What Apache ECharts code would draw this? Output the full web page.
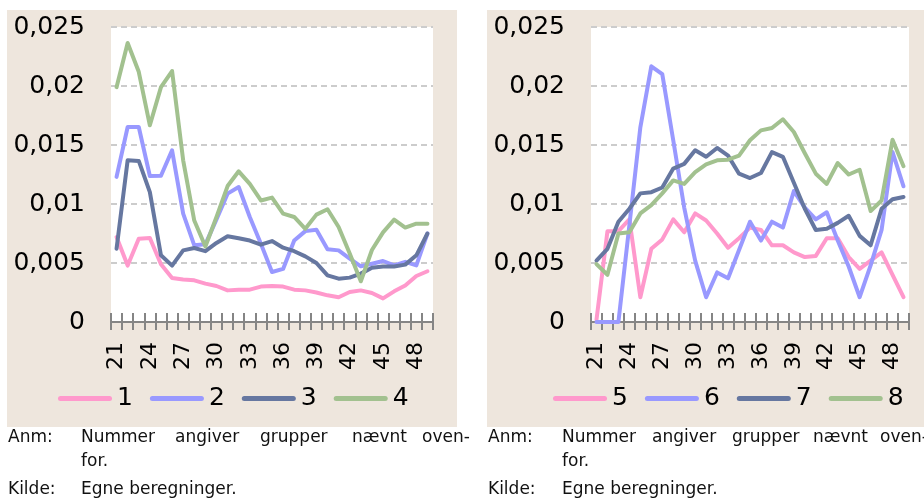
<!DOCTYPE html>
<html><head><meta charset="utf-8">
<script src="https://cdn.jsdelivr.net/npm/echarts@6/dist/echarts.min.js"></script>
<style>html,body{margin:0;padding:0;background:#fff}#c{width:924px;height:501px}</style>
</head><body><div id="c"></div>
<script>
// ---- data ----
const categories = ['21','22','23','24','25','26','27','28','29','30','31','32','33','34','35','36','37','38','39','40','41','42','43','44','45','46','47','48','49'];
const yTickLabels = ['0','0,005','0,01','0,015','0,02','0,025'];
const namesLeft = ['1','2','3','4'];
const namesRight = ['5','6','7','8'];
const s1 = [0.0072,0.00478,0.00706,0.00712,0.0049,0.00373,0.0036,0.00353,0.00325,0.00305,0.00268,0.00274,0.00274,0.003,0.00305,0.003,0.00274,0.00268,0.0025,0.00226,0.0021,0.00254,0.00268,0.00246,0.002,0.0026,0.0031,0.0039,0.0043];
const s2 = [0.0123,0.01653,0.01653,0.01237,0.0124,0.01455,0.00918,0.0065,0.00658,0.0087,0.01088,0.01144,0.0089,0.00664,0.00424,0.0045,0.0069,0.0077,0.00782,0.00616,0.00607,0.00537,0.00472,0.00494,0.00517,0.0048,0.0051,0.0048,0.0075];
const s3 = [0.0062,0.0137,0.01365,0.011,0.00565,0.00478,0.00607,0.00627,0.006,0.0067,0.00726,0.0071,0.0069,0.00655,0.00686,0.0063,0.006,0.00556,0.005,0.00395,0.00367,0.00376,0.0041,0.0046,0.0047,0.0047,0.00486,0.00565,0.0075];
const s4 = [0.0199,0.02365,0.0212,0.01667,0.0199,0.02127,0.0137,0.0086,0.0064,0.0089,0.01152,0.01277,0.0117,0.0103,0.01054,0.00918,0.0089,0.0079,0.0091,0.00955,0.00805,0.0058,0.00345,0.0061,0.0076,0.00867,0.008,0.00833,0.00833];
const s5 = [0.0002,0.0077,0.0077,0.0087,0.0021,0.0062,0.007,0.0087,0.0076,0.0092,0.0086,0.0075,0.0063,0.0071,0.008,0.0078,0.0065,0.0065,0.0059,0.0055,0.0056,0.0071,0.0071,0.0055,0.0045,0.0052,0.0059,0.004,0.0021];
const s6 = [0,0,0,0.0082,0.0165,0.02167,0.021,0.0154,0.0097,0.0052,0.0021,0.0042,0.0037,0.0061,0.0085,0.0069,0.0085,0.008,0.0111,0.0097,0.0087,0.0093,0.0069,0.0047,0.0021,0.0048,0.0078,0.0144,0.0115];
const s7 = [0.0052,0.0062,0.0085,0.0096,0.0109,0.011,0.0114,0.013,0.0134,0.01455,0.014,0.01475,0.0141,0.01257,0.0122,0.01263,0.0144,0.014,0.0118,0.0096,0.0078,0.0079,0.0084,0.009,0.0073,0.0065,0.0096,0.0104,0.0106];
const s8 = [0.0049,0.004,0.0075,0.0076,0.0092,0.0099,0.0109,0.012,0.0117,0.0127,0.01336,0.0137,0.01376,0.0141,0.0154,0.01624,0.01644,0.01718,0.0161,0.0143,0.01257,0.0117,0.01347,0.0125,0.0129,0.0094,0.0103,0.01545,0.0132];

// ---- style ----
const colors = ['#FF99CC','#9999FF','#6677A0','#A2C18F'];
const beige = '#EEE6DD';
const FONT = 'DejaVu Sans';
const capsule = 'path://M2.5,0 H51.5 A2.5,2.5 0 0 1 51.5,5 H2.5 A2.5,2.5 0 0 1 2.5,0 Z';

const chart = echarts.init(document.getElementById('c'), null, {renderer:'canvas'});

function xAxes(gi){
  return [{
    type:'category', gridIndex:gi, data:categories, boundaryGap:true, position:'bottom',
    axisLine:{show:true, lineStyle:{color:'#858585', width:2}},
    axisTick:{show:true, interval:0, length:8, inside:false, lineStyle:{color:'#858585', width:2}},
    axisLabel:{interval:2, rotate:90, margin:20, color:'#000', fontSize:22, fontFamily:FONT},
    splitLine:{show:false}
  },{
    type:'category', gridIndex:gi, data:categories, boundaryGap:true, position:'bottom',
    axisLine:{show:false},
    axisTick:{show:true, interval:0, length:9, inside:true, lineStyle:{color:'#858585', width:2}},
    axisLabel:{show:false}, splitLine:{show:false}
  }];
}
function yAxis(gi){
  return {
    type:'value', gridIndex:gi, min:0, max:0.025, interval:0.005,
    axisLine:{show:false}, axisTick:{show:false},
    axisLabel:{margin:26, color:'#000', fontSize:25, fontFamily:FONT,
      formatter:v=>yTickLabels[Math.round(v/0.005)]},
    splitLine:{show:true, lineStyle:{color:'#CCCCCC', width:2, type:[6,4]}}
  };
}
function mkSeries(names, datas, gi){
  return names.map((n,k)=>({
    name:n, type:'line', xAxisIndex:gi*2, yAxisIndex:gi, data:datas[k],
    symbol:'none', smooth:false, color:colors[k],
    lineStyle:{width:4, color:colors[k], cap:'round', join:'round'}
  }));
}
function legend(names, left){
  return {data:names, left:left, top:386, padding:0, orient:'horizontal', icon:capsule,
    itemWidth:54, itemHeight:5, itemGap:17,
    textStyle:{fontSize:25, color:'#000', fontFamily:FONT}};
}
function t(x,y,s){
  return {type:'text', x:x, y:y, z:10, style:{text:s, fill:'#111', font:'17px "DejaVu Sans"', textVerticalAlign:'middle', textAlign:'left'}};
}

const graphics = [
  {type:'rect', shape:{x:7,y:10,width:450,height:417}, style:{fill:beige}, z:-10, silent:true},
  {type:'rect', shape:{x:487,y:10,width:437,height:417}, style:{fill:beige}, z:-10, silent:true},
  t(8,438,'Anm:'), t(81,438,'Nummer'), t(175,438,'angiver'), t(260,438,'grupper'), t(352,438,'nævnt'), t(422,438,'oven-'),
  t(81,462,'for.'),
  t(8,490,'Kilde:'), t(81,490,'Egne beregninger.'),
  t(488,438,'Anm:'), t(562,438,'Nummer'), t(652,438,'angiver'), t(732,438,'grupper'), t(813,438,'nævnt'), t(880,438,'oven-'),
  t(562,462,'for.'),
  t(488,490,'Kilde:'), t(562,490,'Egne beregninger.')
];

chart.setOption({
  animation:false,
  backgroundColor:'#fff',
  graphic:graphics,
  grid:[
    {left:111, right:924-433, top:27, bottom:501-322, show:true, backgroundColor:'#fff', borderWidth:0},
    {left:591, right:924-909, top:27, bottom:501-322, show:true, backgroundColor:'#fff', borderWidth:0}
  ],
  xAxis:[...xAxes(0), ...xAxes(1)],
  yAxis:[yAxis(0), yAxis(1)],
  legend:[legend(namesLeft,58), legend(namesRight,553)],
  series:[...mkSeries(namesLeft,[s1,s2,s3,s4],0), ...mkSeries(namesRight,[s5,s6,s7,s8],1)]
});
</script></body></html>
